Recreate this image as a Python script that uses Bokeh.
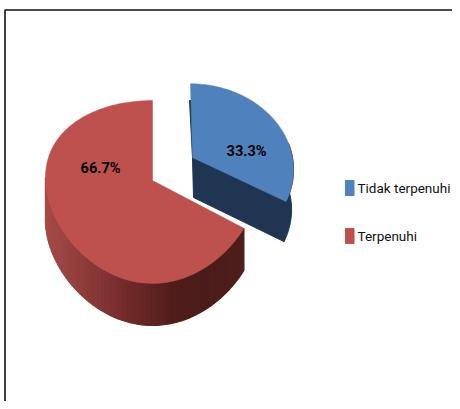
import numpy as np
from bokeh.plotting import figure
from bokeh.embed import file_html
from bokeh.resources import INLINE
from bokeh.core.properties import value

labels = ["Tidak terpenuhi", "Terpenuhi"]
values = [33.3, 66.7]
pct_labels = ["33.3%", "66.7%"]
top_colors = ["#4F81BD", "#BE504D"]

# ranges are in picture pixels from the top-left corner of the figure
W, H = 452, 401
p = figure(width=W, height=H, x_range=(0, W), y_range=(H, 0), output_backend="svg",
           toolbar_location=None, min_border=0,
           background_fill_color="white", border_fill_color="white")
p.axis.visible = False
p.grid.visible = False
p.outline_line_color = None

geo = [dict(ax=192, ay=157, R=100, Hh=83, kx=0.1257, ky=0.1257, d=40, shear=-2),
       dict(ax=152, ay=180, R=107, Hh=90, kx=-0.03, ky=0.1257, d=42, shear=0)]

def project(g, th):
    X, Y = np.sin(th), np.cos(th)
    return (g["ax"] + g["R"] * X / (1 + g["kx"] * Y) + g["shear"] * Y,
            g["ay"] - g["Hh"] * Y / (1 + g["ky"] * Y))

fracs = np.array(values) / sum(values)
edges = np.concatenate([[0], np.cumsum(fracs)]) * 2 * np.pi

# blue walls
g = geo[0]
navy = "#1F3552"
t0, t1 = edges[0], edges[1]
xe, ye = project(g, np.array([t1]))
xs = [g["ax"], xe[0], xe[0] - 2, g["ax"] + 1]
ys = [g["ay"], ye[0], ye[0] + g["d"], g["ay"] + g["d"]]
p.patch(xs, ys, color=navy)
th = np.linspace(np.radians(80), t1, 30)
xa, ya = project(g, th)
p.patch(list(xa) + list(xa[::-1] - 2), list(ya) + list(ya[::-1] + g["d"]), color=navy)
p.patch([g["ax"] - 3, g["ax"], g["ax"]], [g["ay"] - 57, g["ay"] - 57, g["ay"]], color=navy)

# red outer wall as shaded strips
g = geo[1]
ths = np.linspace(edges[1], np.radians(272), 70)
wx, wy = project(g, ths)
stops_x = [45, 75, 120, 170, 195, 243]
stops_c = np.array([[0xA6, 0x4B, 0x48], [0x94, 0x40, 0x3E], [0x76, 0x2E, 0x2C],
                    [0x52, 0x1E, 0x1C], [0x4B, 0x1C, 0x1A], [0x4F, 0x1F, 0x1C]], float)
for i in range(len(ths) - 1):
    xm = (wx[i] + wx[i + 1]) / 2
    c = [np.interp(xm, stops_x, stops_c[:, k]) for k in range(3)]
    col = "#%02x%02x%02x" % tuple(int(v) for v in c)
    p.patch([wx[i], wx[i + 1], wx[i + 1], wx[i]],
            [wy[i], wy[i + 1], wy[i + 1] + g["d"], wy[i] + g["d"]],
            color=col, line_width=1.2)

# top faces
for i, g in enumerate(geo):
    th = np.linspace(edges[i], edges[i + 1], 120)
    x, y = project(g, th)
    p.patch([g["ax"]] + list(x), [g["ay"]] + list(y), color=top_colors[i], line_width=0.5)

# percentage labels
font = value("Roboto")
p.text([246, 100], [151, 168], text=pct_labels, text_font=font, text_font_style="bold",
       text_font_size="14.5px", text_color="#000000", text_align="center", text_baseline="middle")

# legend
leg_y = [187.5, 235.5]
p.quad(left=[345, 345], right=[353.5, 353.5], top=[y - 7.5 for y in leg_y], bottom=[y + 7.5 for y in leg_y],
       color=top_colors)
p.text([357, 357], leg_y, text=labels, text_font=font, text_font_size="13.5px",
       text_color="#111111", text_align="left", text_baseline="middle")

# frame
p.line([4.5, 4.5, W], [H, 9.5, 9.5], line_color="#111111", line_width=1.6)

open("out.html", "w").write(file_html(p, INLINE))
